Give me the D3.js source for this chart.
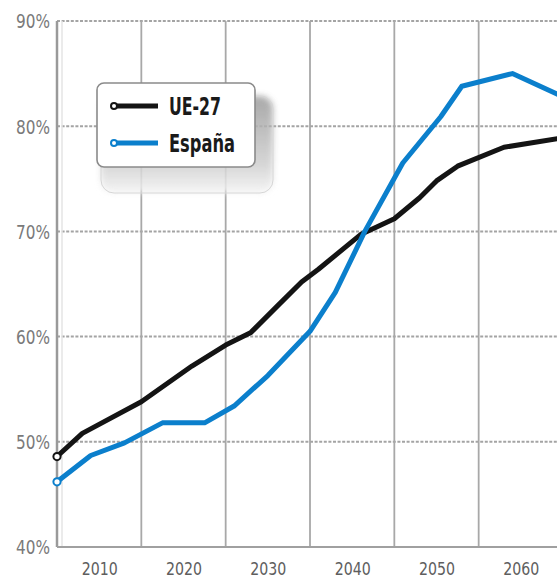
<!DOCTYPE html>
<html>
<head>
<meta charset="utf-8">
<script src="https://cdn.jsdelivr.net/npm/d3@7"></script>
<style>
  html, body { margin: 0; padding: 0; background: #fff; }
  svg { display: block; }
</style>
</head>
<body>
<svg id="chart" width="557" height="580"></svg>
<script>
// ---- data ----
const yTicks = [40, 50, 60, 70, 80, 90];
const xLabels = [2010, 2020, 2030, 2040, 2050, 2060];
const gridYears = [2015, 2025, 2035, 2045, 2055];

const ueYears  = [2005, 2008, 2015, 2021, 2025, 2028, 2031, 2034, 2036, 2041, 2045, 2048, 2050, 2052.5, 2058, 2065];
const ueValues = [48.6, 50.8, 53.8, 57.2, 59.2, 60.4, 62.8, 65.2, 66.4, 69.7, 71.2, 73.2, 74.8, 76.2, 78.0, 78.9];

const esYears  = [2005, 2009, 2013, 2017.5, 2022.5, 2026, 2030, 2035, 2038, 2041.5, 2046, 2050.5, 2053, 2059, 2065];
const esValues = [46.2, 48.7, 49.9, 51.8, 51.8, 53.4, 56.3, 60.5, 64.2, 70.0, 76.5, 80.9, 83.8, 85.0, 82.8];

const seriesNames = ["UE-27", "España"];
const seriesColors = ["#141414", "#0b7fcc"];

// ---- scales ----
const svg = d3.select("#chart");
const x = d3.scaleLinear().domain([2005, 2065]).range([57, 563]);
const y = d3.scaleLinear().domain([40, 90]).range([547, 21]);
const FONT = "'Liberation Sans Narrow', 'DejaVu Sans Condensed', 'Arial Narrow', sans-serif";

// ---- defs ----
const defs = svg.append("defs");
const grad = defs.append("linearGradient").attr("id", "shGrad").attr("x1", 0).attr("y1", 0).attr("x2", 0).attr("y2", 1);
grad.append("stop").attr("offset", "0%").attr("stop-color", "#9a9a9a");
grad.append("stop").attr("offset", "70%").attr("stop-color", "#cfcfcf");
grad.append("stop").attr("offset", "100%").attr("stop-color", "#f3f3f3");
const blur = defs.append("filter").attr("id", "blur").attr("x", "-20%").attr("y", "-20%").attr("width", "140%").attr("height", "140%");
blur.append("feGaussianBlur").attr("stdDeviation", 3);

// ---- grid ----
svg.append("g").selectAll("line").data(yTicks.filter(d => d > 40)).join("line")
  .attr("x1", x(2005)).attr("x2", 557)
  .attr("y1", d => y(d)).attr("y2", d => y(d))
  .attr("stroke", "#a4a4a4").attr("stroke-width", 2).attr("stroke-dasharray", "3,1.6");

svg.append("g").selectAll("line").data(gridYears).join("line")
  .attr("x1", d => x(d)).attr("x2", d => x(d))
  .attr("y1", y(90)).attr("y2", y(40))
  .attr("stroke", "#a8a8a8").attr("stroke-width", 1.8);

// faint inner line next to axis
svg.append("line").attr("x1", x(2005) + 5).attr("x2", x(2005) + 5)
  .attr("y1", y(90)).attr("y2", y(40)).attr("stroke", "#e4e4e4").attr("stroke-width", 1.5);

// axis lines
svg.append("line").attr("x1", x(2005)).attr("x2", x(2005))
  .attr("y1", y(90)).attr("y2", y(40)).attr("stroke", "#9a9a9a").attr("stroke-width", 2.5);
svg.append("line").attr("x1", x(2005)).attr("x2", 557)
  .attr("y1", y(40)).attr("y2", y(40)).attr("stroke", "#a0a0a0").attr("stroke-width", 2);

// ---- axes (labels) ----
const yAxis = svg.append("g").attr("transform", `translate(${x(2005)},0)`)
  .call(d3.axisLeft(y).tickValues(yTicks).tickFormat(d => d + "%").tickSize(0).tickPadding(7));
yAxis.select(".domain").remove();
yAxis.selectAll("text").attr("font-family", FONT).attr("font-size", 19)
  .attr("fill", "#7a7a7a").attr("dy", "0.36em").attr("textLength", 34).attr("lengthAdjust", "spacingAndGlyphs");

const xAxis = svg.append("g").attr("transform", `translate(0,${y(40)})`)
  .call(d3.axisBottom(x).tickValues(xLabels).tickFormat(d3.format("d")).tickSize(0).tickPadding(15));
xAxis.select(".domain").remove();
xAxis.selectAll("text").attr("font-family", FONT).attr("font-size", 18)
  .attr("fill", "#5e5e5e").attr("textLength", 36).attr("lengthAdjust", "spacingAndGlyphs");

// ---- lines ----
const line = d3.line().x(d => x(d[0])).y(d => y(d[1])).curve(d3.curveLinear);
const series = [
  d3.zip(ueYears, ueValues),
  d3.zip(esYears, esValues)
];
series.forEach((s, i) => {
  svg.append("path").datum(s).attr("d", line)
    .attr("fill", "none").attr("stroke", seriesColors[i]).attr("stroke-width", 5)
    .attr("stroke-linejoin", "round").attr("stroke-linecap", "butt");
});
series.forEach((s, i) => {
  svg.append("circle").attr("cx", x(s[0][0])).attr("cy", y(s[0][1])).attr("r", 3.6)
    .attr("fill", "#fff").attr("stroke", seriesColors[i]).attr("stroke-width", 2);
});

// ---- legend ----
const lg = svg.append("g");
lg.append("rect").attr("x", 101).attr("y", 96).attr("width", 172).attr("height", 97).attr("rx", 13)
  .attr("fill", "url(#shGrad)").attr("filter", "url(#blur)").attr("opacity", 0.85);
lg.append("rect").attr("x", 101).attr("y", 96).attr("width", 172).attr("height", 97).attr("rx", 13)
  .attr("fill", "none").attr("stroke", "#d6d6d6").attr("stroke-width", 1);
lg.append("rect").attr("x", 97).attr("y", 83).attr("width", 158).attr("height", 84).attr("rx", 7)
  .attr("fill", "#fff").attr("stroke", "#8a8a8a").attr("stroke-width", 1.6);

const legendY = [106, 143];
const legendTextW = [52, 66];
seriesNames.forEach((name, i) => {
  lg.append("line").attr("x1", 114).attr("x2", 158).attr("y1", legendY[i]).attr("y2", legendY[i])
    .attr("stroke", seriesColors[i]).attr("stroke-width", 5);
  lg.append("circle").attr("cx", 114).attr("cy", legendY[i]).attr("r", 3)
    .attr("fill", "#fff").attr("stroke", seriesColors[i]).attr("stroke-width", 2);
  lg.append("text").attr("x", 169).attr("y", legendY[i] + 9)
    .attr("font-family", FONT).attr("font-weight", "bold").attr("font-size", 25)
    .attr("fill", "#1a1a1a").attr("textLength", legendTextW[i]).attr("lengthAdjust", "spacingAndGlyphs")
    .text(name);
});
</script>
</body>
</html>
